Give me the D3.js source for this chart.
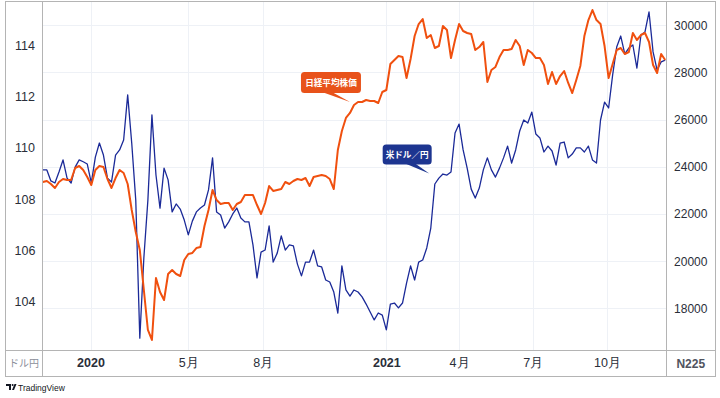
<!DOCTYPE html>
<html><head><meta charset="utf-8">
<script src="https://cdn.jsdelivr.net/npm/d3@7"></script>
<style>
html,body{margin:0;padding:0;background:#fff;}
svg{display:block;font-family:"Liberation Sans","Noto Sans CJK JP",sans-serif;}
</style></head><body>
<svg id="c" width="720" height="398"></svg>
<script>
// ---- data ----
const startDate = "2019-11-03";
const stepDays = 5;
const usdjpy = [
109.14,109.14,108.71,108.63,109.06,109.53,108.82,108.63,109.25,109.53,
109.46,109.37,108.63,109.64,110.19,109.72,108.82,108.67,109.72,109.92,
110.31,112.07,110.19,107.96,102.57,105.70,107.96,111.29,108.94,107.65,
109.21,108.75,107.50,107.81,107.61,107.18,106.60,107.14,107.50,107.65,
107.77,108.36,109.61,107.50,107.38,106.87,107.11,107.42,107.65,107.26,
107.11,107.11,106.21,104.92,105.93,106.01,106.95,105.54,105.89,106.56,
106.01,106.21,106.17,105.46,105.00,105.54,105.54,106.01,105.39,105.35,
104.84,104.76,104.37,103.55,105.39,104.45,104.21,104.45,104.37,104.18,
103.90,103.59,103.28,103.55,103.47,102.89,103.90,103.94,103.75,103.94,
104.72,105.39,104.84,105.54,105.62,106.09,106.87,108.59,108.82,108.98,
108.94,109.06,110.58,110.93,109.92,109.21,108.39,108.04,108.43,109.14,
109.61,109.14,108.86,109.21,109.61,110.07,109.41,109.92,110.66,111.09,
110.97,111.40,110.54,110.39,109.84,110.07,109.88,109.33,110.19,110.23,
109.61,109.76,110.00,110.00,109.84,110.07,109.53,109.41,111.09,111.79,
111.56,112.85,113.94,114.37,113.67,113.90,114.02,113.12,114.41,114.53,
115.31,113.75,113.04,113.36,113.43];
const nikkei = [
23356,23398,23271,23102,23356,23483,23441,23441,23949,24034,
23864,23568,23229,23864,24034,23992,23483,23102,23525,23864,
23737,23271,22170,21237,20475,18780,17085,16662,19288,18695,
18356,19458,19627,19458,19373,20051,20305,20348,20559,20602,
21492,22170,23017,22593,22424,22466,22466,22170,22424,22509,
22805,22805,22805,22381,22000,22466,23186,22975,23017,23059,
23356,23271,23398,23483,23441,23525,23186,23568,23610,23653,
23610,23483,23059,24712,25517,26068,26280,26618,26746,26746,
26830,26788,26788,26703,27169,27254,28356,28525,28695,28652,
27762,28567,29542,30050,30262,29457,29584,29034,29118,29966,
29796,28610,29373,30050,29754,29669,29627,28949,29076,29288,
27593,28101,28229,28652,28949,28949,28991,29373,29118,28313,
28949,28822,28610,28610,28313,27508,28017,27508,27847,28059,
27551,27127,27678,28271,29542,30220,30644,30220,30050,29118,
27762,28356,28949,29034,28779,28864,29669,29373,29584,29669,
29288,28313,27974,28779,28525];
const timeTicks = ["2020-01-01","2020-05-01","2020-08-01","2021-01-01","2021-04-01","2021-07-01","2021-10-01"];
const timeTickLabels = ["2020","5月","8月","2021","4月","7月","10月"];
const yearTicks = ["2020","2021"];
const usdTicks = [104,106,108,110,112,114];
const nikkeiTicks = [18000,20000,22000,24000,26000,28000,30000];
const seriesNames = ["日経平均株価","米ドル／円"];
const axisNames = ["ドル円","N225"];
const annoDates = ["2020-11-17","2021-02-23"];
const annoValues = [26750, 109.0];

// ---- layout ----
const frame = {l:5.5, r:715.5, t:1.5, b:376.5};
const plot = {l:42.5, r:666, t:2, b:350};
const C = {orange:"#f0500f", blue:"#1b2a98", boxO:"#e8521a", boxB:"#1d3590",
           grid:"#eef1f6", border:"#b4b4b4", text:"#2a2e39"};

const parse = d3.timeParse("%Y-%m-%d");
const t0 = parse(startDate);
const dates = usdjpy.map((_, i) => d3.timeDay.offset(t0, i * stepDays));

const x = d3.scaleTime().domain([parse("2020-01-01"), parse("2021-10-01")]).range([90.5, 607]);
const yL = d3.scaleLinear().domain([104, 114]).range([301.5, 45.5]);
const yR = d3.scaleLinear().domain([18000, 30000]).range([308.4, 25.2]);

const svg = d3.select("#c");
const defs = svg.append("defs");
defs.append("clipPath").attr("id","clip").append("rect")
  .attr("x", plot.l).attr("y", plot.t).attr("width", plot.r - plot.l).attr("height", plot.b - plot.t);

// grid
const grid = svg.append("g");
grid.selectAll("line.h").data(nikkeiTicks).join("line")
  .attr("x1", plot.l).attr("x2", plot.r)
  .attr("y1", d => Math.round(yR(d)) + 0.5).attr("y2", d => Math.round(yR(d)) + 0.5)
  .attr("stroke", C.grid).attr("stroke-width", 1);
grid.selectAll("line.v").data(timeTicks).join("line")
  .attr("x1", d => Math.round(x(parse(d))) + 0.5).attr("x2", d => Math.round(x(parse(d))) + 0.5)
  .attr("y1", plot.t).attr("y2", plot.b)
  .attr("stroke", C.grid).attr("stroke-width", 1);

// lines
const g = svg.append("g").attr("clip-path", "url(#clip)");
g.append("path").datum(usdjpy.map((v, i) => [dates[i], v]))
  .attr("fill","none").attr("stroke", C.blue).attr("stroke-width", 1.3).attr("stroke-linejoin","round")
  .attr("d", d3.line().x(d => x(d[0])).y(d => yL(d[1])));
g.append("path").datum(nikkei.map((v, i) => [dates[i], v]))
  .attr("fill","none").attr("stroke", C.orange).attr("stroke-width", 2).attr("stroke-linejoin","round")
  .attr("d", d3.line().x(d => x(d[0])).y(d => yR(d[1])));

// frame & separators
svg.append("rect").attr("x", frame.l).attr("y", frame.t).attr("width", frame.r - frame.l).attr("height", frame.b - frame.t)
  .attr("fill","none").attr("stroke", C.border);
svg.append("line").attr("x1", plot.l).attr("x2", plot.l).attr("y1", frame.t).attr("y2", frame.b).attr("stroke", C.border);
svg.append("line").attr("x1", plot.r + 0.5).attr("x2", plot.r + 0.5).attr("y1", frame.t).attr("y2", frame.b).attr("stroke", C.border);
svg.append("line").attr("x1", frame.l).attr("x2", frame.r).attr("y1", plot.b + 0.5).attr("y2", plot.b + 0.5).attr("stroke", C.border);

// axes
function styleAxis(sel, size) {
  sel.select(".domain").remove();
  sel.selectAll("text").attr("fill", C.text).attr("font-size", size);
}
const leftAx = svg.append("g").attr("transform", `translate(${(frame.l + plot.l) / 2 + 1},0)`)
  .call(d3.axisLeft(yL).tickValues(usdTicks).tickSize(0).tickPadding(0).tickFormat(d3.format("d")));
styleAxis(leftAx, 12.5);
leftAx.selectAll("text").attr("text-anchor","middle").attr("x", 0);

const rightAx = svg.append("g").attr("transform", `translate(${(plot.r + frame.r) / 2},0)`)
  .call(d3.axisRight(yR).tickValues(nikkeiTicks).tickSize(0).tickPadding(0).tickFormat(d3.format("d")));
styleAxis(rightAx, 12);
rightAx.selectAll("text").attr("text-anchor","middle").attr("x", 0);

const botAx = svg.append("g").attr("transform", `translate(0,${plot.b})`)
  .call(d3.axisBottom(x).tickValues(timeTicks.map(parse)).tickSize(0).tickPadding(8)
        .tickFormat((d, i) => timeTickLabels[i]));
styleAxis(botAx, 12.5);
botAx.selectAll("text").attr("font-weight", (d, i) => yearTicks.includes(timeTickLabels[i]) ? 700 : 400);

// axis corner names
svg.append("text").attr("x", (frame.l + plot.l) / 2).attr("y", 367).attr("text-anchor","middle")
  .attr("font-size", 10).attr("fill", "#8a8e99").text(axisNames[0]);
svg.append("text").attr("x", (plot.r + frame.r) / 2).attr("y", 367.5).attr("text-anchor","middle")
  .attr("font-size", 12).attr("font-weight", 700).attr("fill", "#50535e").text(axisNames[1]);

// annotation labels
function anno(tipX, tipY, bx0, bx1, by0, by1, px0, px1, fill, label) {
  const a = svg.append("g");
  a.append("path").attr("d", `M${tipX + px0},${tipY + by1 - 1}L${tipX + px1},${tipY + by1 - 1}L${tipX},${tipY}Z`).attr("fill", fill);
  a.append("rect").attr("x", tipX + bx0).attr("y", tipY + by0).attr("width", bx1 - bx0).attr("height", by1 - by0)
    .attr("rx", 3.5).attr("fill", fill);
  a.append("text").attr("x", tipX + (bx0 + bx1) / 2).attr("y", tipY + (by0 + by1) / 2 + 3.2)
    .attr("text-anchor","middle").attr("font-size", 8.6).attr("font-weight", 700).attr("fill", "#fff").text(label);
}
const tipO = [x(parse(annoDates[0])), yR(annoValues[0])];
const tipB = [x(parse(annoDates[1])), yL(annoValues[1])];
anno(tipO[0], tipO[1], -49, 11, -30, -9, -28, -18, C.boxO, seriesNames[0]);
anno(tipB[0], tipB[1], -46.5, 2.5, -29, -9, -24, -14, C.boxB, seriesNames[1]);

// TradingView mark
const tv = svg.append("g").attr("transform", "translate(6,384)");
tv.append("path").attr("d", "M0,0H5V6H3V2H0Z M6,6L8.5,0H10.5L8,6Z").attr("fill", "#131722");
tv.append("circle").attr("cx", 6.6).attr("cy", 1).attr("r", 1).attr("fill", "#131722");
svg.append("text").attr("x", 18).attr("y", 390.5).attr("font-size", 8.5).attr("fill", "#131722").text("TradingView");
</script>
</body></html>
